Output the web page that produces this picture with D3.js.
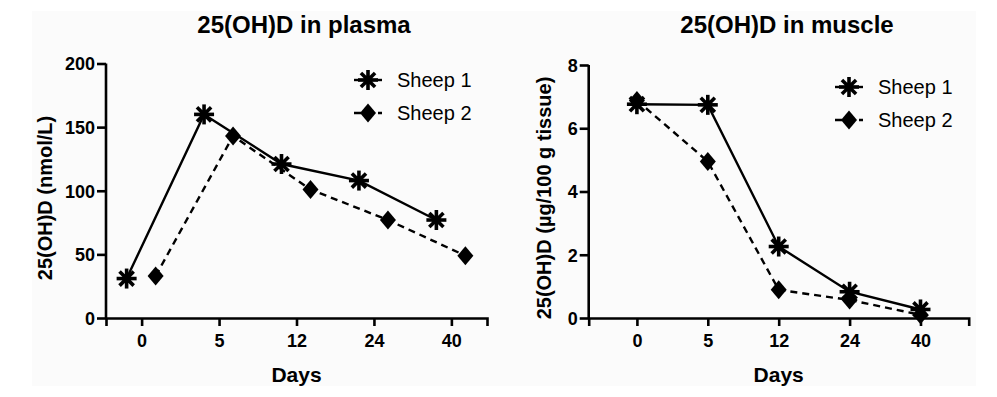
<!DOCTYPE html>
<html>
<head>
<meta charset="utf-8">
<script src="https://cdn.jsdelivr.net/npm/d3@7"></script>
<style>
  body { margin: 0; background: #fff; }
  svg { display: block; }
  svg text { font-family: "Liberation Sans", Arial, sans-serif; }
</style>
</head>
<body>
<div id="chart"></div>
<script>
// data
const days = ["0", "5", "12", "24", "40"];
const seriesNames = ["Sheep 1", "Sheep 2"];
const plasmaSheep1 = [31, 160, 121, 108, 77];
const plasmaSheep2 = [33, 143, 101, 77, 49];
const muscleSheep1 = [6.76, 6.74, 2.26, 0.83, 0.27];
const muscleSheep2 = [6.88, 4.95, 0.89, 0.57, 0.1];
const plasmaTicks = [0, 50, 100, 150, 200];
const muscleTicks = [0, 2, 4, 6, 8];

const W = 997, H = 397;
const svg = d3.select("#chart").append("svg")
  .attr("width", W).attr("height", H);

svg.append("rect")
  .attr("x", 32).attr("y", 11)
  .attr("width", 944).attr("height", 375)
  .attr("fill", "#fbfbfb");

// asterisk and diamond markers
function star(g, r) {
  for (let i = 0; i < 4; i++) {
    let a = i * Math.PI / 4;
    g.append("line")
      .attr("x1", -r * Math.cos(a)).attr("y1", -r * Math.sin(a))
      .attr("x2", r * Math.cos(a)).attr("y2", r * Math.sin(a))
      .attr("stroke", "#000").attr("stroke-width", 3.6);
  }
  g.append("circle").attr("r", 4.5).attr("fill", "#000");
}
function diamond(g) {
  g.append("path")
    .attr("d", "M0,-9.5L8,0L0,9.5L-8,0Z")
    .attr("fill", "#000");
}

function panel(opt) {
  let g = svg.append("g");

  let x = d3.scalePoint()
    .domain(days)
    .range([opt.left, opt.right])
    .padding(opt.pad);

  let y = d3.scaleLinear()
    .domain([0, d3.max(opt.yTicks)])
    .range([318, opt.top]);

  let dodge = d3.scalePoint()
    .domain(seriesNames)
    .range(opt.dodge);

  // x axis
  let xa = g.append("g")
    .attr("transform", "translate(0,318)")
    .call(d3.axisBottom(x).tickSizeOuter(0).tickSize(8).tickPadding(8));
  // y axis
  let ya = g.append("g")
    .attr("transform", "translate(" + opt.left + ",0)")
    .call(d3.axisLeft(y).tickValues(opt.yTicks).tickSizeOuter(0).tickSize(9).tickPadding(2));

  [xa, ya].forEach(a => {
    a.attr("font-family", null).attr("font-size", null);
    a.selectAll("path, line").attr("stroke", "#000").attr("stroke-width", 2.6);
    a.selectAll("text")
      .attr("fill", "#000")
      .style("font-size", "18px")
      .style("font-weight", "bold");
  });
  ya.select(".domain").attr("d", "M0," + y(d3.max(opt.yTicks)) + "V318");
  ya.selectAll("text").attr("dy", "0.36em");
  xa.selectAll("text").attr("dy", "0.72em");

  // lines and markers
  let series = [
    { name: seriesNames[0], values: opt.s1, dash: null },
    { name: seriesNames[1], values: opt.s2, dash: "7,5" }
  ];
  let line = d3.line()
    .x((d, i) => x(days[i]) + dodge(d.name))
    .y(d => y(d.v));

  series.forEach(s => {
    let pts = s.values.map(v => ({ name: s.name, v: v }));
    g.append("path")
      .datum(pts)
      .attr("d", line)
      .attr("fill", "none")
      .attr("stroke", "#000")
      .attr("stroke-width", 2.4)
      .attr("stroke-dasharray", s.dash);
  });
  series.slice().reverse().forEach(s => {
    s.values.forEach((v, i) => {
      let m = g.append("g")
        .attr("transform", "translate(" + (x(days[i]) + dodge(s.name)) + "," + y(v) + ")");
      if (s.name == seriesNames[0]) star(m, 10); else diamond(m);
    });
  });

  // legend
  let lg = g.append("g").attr("transform", "translate(" + opt.legX + "," + opt.legY + ")");
  series.forEach((s, i) => {
    let row = lg.append("g").attr("transform", "translate(0," + (i * 33) + ")");
    row.append("line")
      .attr("x1", -14).attr("x2", 14)
      .attr("stroke", "#000").attr("stroke-width", 2.4)
      .attr("stroke-dasharray", s.dash);
    let m = row.append("g");
    if (i == 0) star(m, 10); else diamond(m);
    row.append("text")
      .attr("x", 29).attr("y", 7)
      .style("font-size", "20px")
      .text(s.name);
  });

  // titles
  g.append("text")
    .attr("x", opt.titleX).attr("y", 33)
    .attr("text-anchor", "middle")
    .style("font-size", "24px").style("font-weight", "bold")
    .text(opt.title);
  g.append("text")
    .attr("x", (opt.left + opt.right) / 2 + opt.daysShift).attr("y", 382)
    .attr("text-anchor", "middle")
    .style("font-size", "21px").style("font-weight", "bold")
    .text("Days");
  g.append("text")
    .attr("transform", "translate(" + opt.yLabX + ",198) rotate(-90)")
    .attr("text-anchor", "middle")
    .style("font-size", "20px").style("font-weight", "bold")
    .text(opt.yLabel);
}

panel({
  left: 106, right: 487, top: 63.5, pad: 0.46, dodge: [-15, 14],
  yTicks: plasmaTicks, s1: plasmaSheep1, s2: plasmaSheep2,
  title: "25(OH)D in plasma", titleX: 304,
  yLabel: "25(OH)D (nmol/L)", yLabX: 52, daysShift: 0,
  legX: 368, legY: 80
});

panel({
  left: 588.7, right: 968.7, top: 65, pad: 0.68, dodge: [0, 0],
  yTicks: muscleTicks, s1: muscleSheep1, s2: muscleSheep2,
  title: "25(OH)D in muscle", titleX: 787,
  yLabel: "25(OH)D (\u00b5g/100 g tissue)", yLabX: 551, daysShift: 0,
  legX: 849, legY: 87
});
</script>
</body>
</html>
